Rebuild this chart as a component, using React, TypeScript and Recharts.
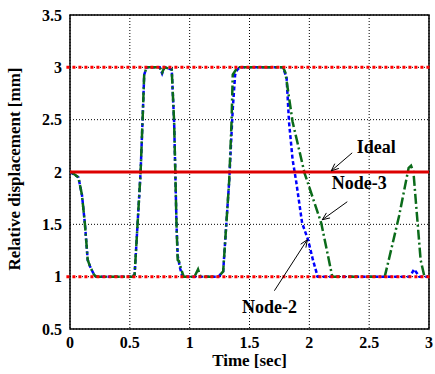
import { ComposedChart, Line, XAxis, YAxis, CartesianGrid, ReferenceLine, ReferenceArea, ReferenceDot } from 'recharts'

const node2Time = [0, 0.07, 0.1, 0.125, 0.148, 0.167, 0.2, 0.22, 0.52, 0.54, 0.59, 0.606, 0.62, 0.64, 0.75, 0.77, 0.79, 0.85, 0.87, 0.88, 0.89, 0.9, 0.92, 0.94, 1.24, 1.28, 1.33, 1.36, 1.38, 1.4, 1.42, 1.78, 1.81, 1.83, 1.86, 1.89, 1.94, 1.99, 2.03, 2.07, 2.84, 2.875, 2.92, 3.0]
const node2Disp = [2.0, 1.95, 1.78, 1.5, 1.16, 1.1, 1.02, 1.0, 1.0, 1.02, 2.0, 2.48, 2.93, 3.0, 3.0, 2.94, 3.0, 2.98, 2.48, 2.0, 1.5, 1.2, 1.08, 1.0, 1.0, 1.05, 1.91, 2.6, 2.93, 2.98, 3.0, 3.0, 2.9, 2.48, 2.12, 1.91, 1.51, 1.35, 1.16, 1.0, 1.0, 1.07, 1.0, 1.0]

const node3Time = [0, 0.01, 0.07, 0.1, 0.125, 0.148, 0.167, 0.2, 0.22, 0.52, 0.54, 0.59, 0.606, 0.62, 0.64, 0.75, 0.77, 0.79, 0.85, 0.87, 0.88, 0.89, 0.9, 0.91, 0.93, 0.95, 1.04, 1.07, 1.09, 1.24, 1.28, 1.33, 1.35, 1.36, 1.4, 1.78, 1.8, 1.86, 1.96, 2.1, 2.19, 2.2, 2.63, 2.67, 2.75, 2.83, 2.85, 2.87, 2.9, 2.93, 2.96, 3.0]
const node3Disp = [2.0, 2.0, 1.95, 1.78, 1.5, 1.16, 1.1, 1.02, 1.0, 1.0, 1.02, 2.0, 2.48, 2.93, 3.0, 3.0, 2.95, 3.0, 2.98, 2.48, 2.0, 1.5, 1.16, 1.15, 1.07, 1.0, 1.0, 1.07, 1.0, 1.0, 1.05, 1.91, 2.48, 2.93, 3.0, 3.0, 2.95, 2.48, 1.99, 1.51, 1.01, 1.0, 1.0, 1.19, 1.58, 2.04, 2.06, 2.0, 1.58, 1.16, 1.01, 1.0]

const xTicks = [0, 0.5, 1, 1.5, 2, 2.5, 3]
const yTicks = [0.5, 1, 1.5, 2, 2.5, 3, 3.5]

const idealValue = 2
const upperLimit = 3
const lowerLimit = 1

const node2 = node2Time.map((t, i) => ({ t, v: node2Disp[i] }))
const node3 = node3Time.map((t, i) => ({ t, v: node3Disp[i] }))

const FONT = 'Liberation Serif'
const tickStyle = { fontSize: 16, fontWeight: 'bold', fill: '#000', fontFamily: FONT }

function Arrow(props: any) {
  const { x1, y1, x2, y2 } = props
  const a = Math.atan2(y2 - y1, x2 - x1)
  const len = 8
  const w = 0.4
  const p1 = `${x2 - len * Math.cos(a - w)},${y2 - len * Math.sin(a - w)}`
  const p2 = `${x2 - len * Math.cos(a + w)},${y2 - len * Math.sin(a + w)}`
  return (
    <g>
      <line x1={x1} y1={y1} x2={x2} y2={y2} stroke="#000" strokeWidth={1} />
      <polyline points={`${p1} ${x2},${y2} ${p2}`} fill="none" stroke="#000" strokeWidth={1} />
    </g>
  )
}

const note = (text: string) => (p: any) => (
  <text x={p.cx} y={p.cy} textAnchor="middle" dominantBaseline="central" style={{ fontFamily: FONT, fontWeight: 'bold', fontSize: 18 }} fill="#000">
    {text}
  </text>
)

export default function App() {
  return (
    <div style={{ position: 'absolute', left: 0, top: 0, background: '#fff', fontFamily: FONT }}>
      <ComposedChart width={435} height={374} margin={{ top: 15, right: 6, left: 0, bottom: 25 }} style={{ fontFamily: FONT }}>
        <CartesianGrid stroke="#000" strokeDasharray="1 2" strokeWidth={1} />
        <XAxis
          type="number"
          dataKey="t"
          domain={[0, 3]}
          ticks={xTicks}
          tickLine={false}
          axisLine={false}
          height={20}
          tick={tickStyle}
          allowDataOverflow
          label={{ value: 'Time [sec]', position: 'bottom', offset: 5, style: { fontSize: 17, fontWeight: 'bold', fill: '#000', fontFamily: FONT } }}
        />
        <YAxis
          type="number"
          domain={[0.5, 3.5]}
          ticks={yTicks}
          tickLine={false}
          axisLine={false}
          width={70}
          tick={tickStyle}
          allowDataOverflow
          label={{ value: 'Relative displacement [mm]', angle: -90, position: 'insideLeft', offset: 14, dy: -3, style: { textAnchor: 'middle', fontSize: 17, fontWeight: 'bold', fill: '#000', fontFamily: FONT } }}
        />
        <ReferenceArea x1={0} x2={3} y1={0.5} y2={3.5} fill="none" stroke="#000" strokeWidth={1.5} ifOverflow="visible" />
        <Line data={node2} dataKey="v" type="linear" stroke="#0000ff" strokeWidth={2.5} strokeDasharray="4 2.5" dot={false} isAnimationActive={false} />
        <Line data={node3} dataKey="v" type="linear" stroke="#0b6b1a" strokeWidth={2.5} strokeDasharray="10 3 2 3" dot={false} isAnimationActive={false} />
        <ReferenceLine y={idealValue} stroke="#dd0000" strokeWidth={3} />
        <ReferenceLine segment={[{ x: -0.03, y: upperLimit }, { x: 3.02, y: upperLimit }]} stroke="#ff0000" strokeWidth={3} strokeDasharray="3 3" ifOverflow="visible" />
        <ReferenceLine segment={[{ x: -0.03, y: lowerLimit }, { x: 3.02, y: lowerLimit }]} stroke="#ff0000" strokeWidth={3} strokeDasharray="3 3" ifOverflow="visible" />
        <ReferenceLine segment={[{ x: 2.358, y: 2.183 }, { x: 2.183, y: 2.011 }]} shape={Arrow} ifOverflow="visible" />
        <ReferenceLine segment={[{ x: 2.317, y: 1.716 }, { x: 2.108, y: 1.544 }]} shape={Arrow} ifOverflow="visible" />
        <ReferenceLine segment={[{ x: 1.708, y: 0.866 }, { x: 1.983, y: 1.353 }]} shape={Arrow} ifOverflow="visible" />
        <ReferenceDot x={2.56} y={2.236} r={0} shape={note('Ideal')} ifOverflow="visible" />
        <ReferenceDot x={2.417} y={1.897} r={0} shape={note('Node-3')} ifOverflow="visible" />
        <ReferenceDot x={1.667} y={0.714} r={0} shape={note('Node-2')} ifOverflow="visible" />
      </ComposedChart>
    </div>
  )
}
